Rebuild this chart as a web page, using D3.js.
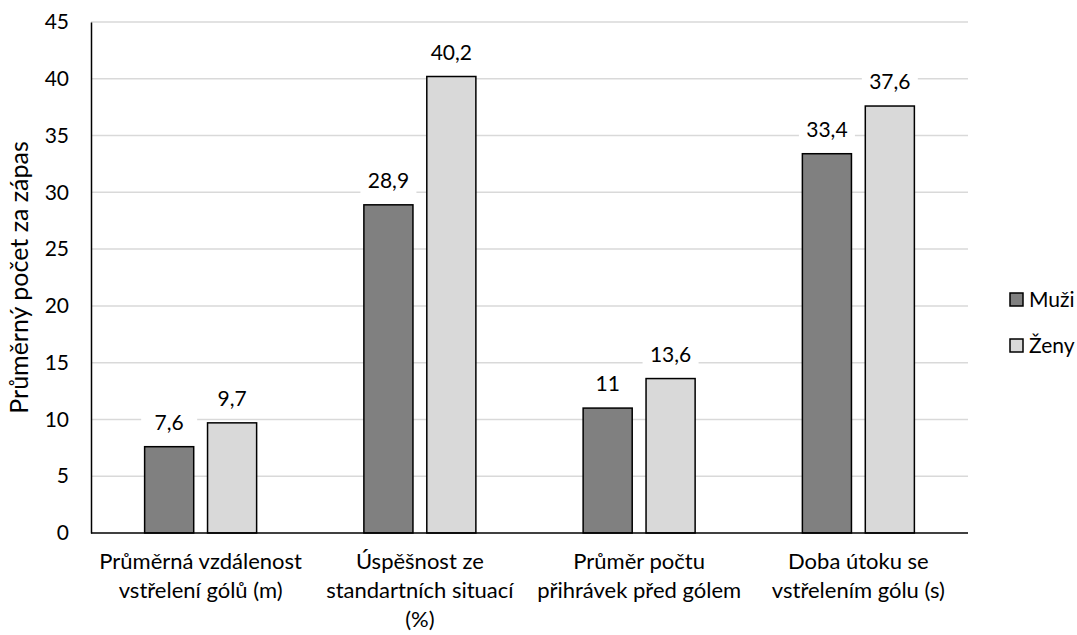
<!doctype html>
<html>
<head>
<meta charset="utf-8">
<script src="https://cdnjs.cloudflare.com/ajax/libs/d3/7.8.5/d3.min.js"></script>
<style>
  body { margin: 0; background: #fff; }
  text { font-family: Lato, "Open Sans", sans-serif; fill: #000; }
</style>
</head>
<body>
<div id="chart"></div>
<script>
var w = 1077, h = 635;
var margin = {left: 91, right: 109, top: 22, bottom: 102};

var categories = [
  ["Průměrná vzdálenost", "vstřelení gólů (m)"],
  ["Úspěšnost ze", "standartních situací", "(%)"],
  ["Průměr počtu", "přihrávek před gólem"],
  ["Doba útoku se", "vstřelením gólu (s)"]
];
var series = ["Muži", "Ženy"];
var colors = ["#808080", "#d9d9d9"];
var muzi = [7.6, 28.9, 11, 33.4];
var zeny = [9.7, 40.2, 13.6, 37.6];
var yTicks = [0, 5, 10, 15, 20, 25, 30, 35, 40, 45];

var values = [muzi, zeny];

var svg = d3.select("#chart").append("svg")
  .attr("width", w).attr("height", h);

var x0 = d3.scaleBand()
  .domain(d3.range(categories.length))
  .range([margin.left, w - margin.right]);

var x1 = d3.scaleBand()
  .domain([0, 1])
  .range([0, 112])
  .paddingInner(0.22);

var y = d3.scaleLinear()
  .domain([0, 45])
  .range([h - margin.bottom, margin.top]);

// gridlines
svg.append("g")
  .selectAll("line")
  .data(yTicks.slice(1))
  .enter().append("line")
  .attr("x1", margin.left).attr("x2", w - margin.right)
  .attr("y1", function (d) { return y(d); })
  .attr("y2", function (d) { return y(d); })
  .attr("stroke", "#d9d9d9").attr("stroke-width", 1.5);

// y axis
var yAxis = svg.append("g")
  .attr("transform", "translate(" + margin.left + ",0)")
  .call(d3.axisLeft(y).tickValues(yTicks).tickSize(0).tickPadding(22));
yAxis.select(".domain").attr("stroke", "#000").attr("stroke-width", 1.5);
yAxis.selectAll("text").style("font-size", "21px").style("font-family", "Lato, 'Open Sans', sans-serif");

// bars
series.forEach(function (s, si) {
  var g = svg.append("g");
  g.selectAll("rect")
    .data(values[si])
    .enter().append("rect")
    .attr("x", function (d, i) { return x0(i) + x0.bandwidth() / 2 - 56 + x1(si); })
    .attr("y", function (d) { return y(d); })
    .attr("width", x1.bandwidth())
    .attr("height", function (d) { return y(0) - y(d); })
    .attr("fill", colors[si])
    .attr("stroke", "#000").attr("stroke-width", 1.5);

  // data labels with white background
  var lab = g.selectAll("g.lab")
    .data(values[si])
    .enter().append("g")
    .attr("class", "lab")
    .attr("transform", function (d, i) {
      return "translate(" + (x0(i) + x0.bandwidth() / 2 - 56 + x1(si) + x1.bandwidth() / 2) + "," + (y(d) - 17) + ")";
    });
  lab.append("rect")
    .attr("x", -28).attr("y", -22).attr("width", 56).attr("height", 28)
    .attr("fill", "#fff");
  lab.append("text")
    .attr("text-anchor", "middle")
    .style("font-size", "21px")
    .text(function (d) { return String(d).replace(".", ","); });
});

// x axis line
svg.append("line")
  .attr("x1", margin.left).attr("x2", w - margin.right)
  .attr("y1", y(0)).attr("y2", y(0))
  .attr("stroke", "#000").attr("stroke-width", 1.5);

// category labels
var cat = svg.append("g").selectAll("text")
  .data(categories)
  .enter().append("text")
  .attr("text-anchor", "middle")
  .style("font-size", "22px")
  .attr("transform", function (d, i) { return "translate(" + (x0(i) + x0.bandwidth() / 2) + "," + (y(0) + 36) + ")"; });
cat.selectAll("tspan")
  .data(function (d) { return d; })
  .enter().append("tspan")
  .attr("x", 0)
  .attr("dy", function (d, i) { return i === 0 ? 0 : 29; })
  .text(function (d) { return d; });

// y title
svg.append("text")
  .attr("text-anchor", "middle")
  .attr("transform", "translate(28," + ((y(0) + y(45)) / 2) + ")rotate(-90)")
  .style("font-size", "25px")
  .text("Průměrný počet za zápas");

// legend
var leg = svg.append("g").selectAll("g")
  .data(series)
  .enter().append("g")
  .attr("transform", function (d, i) { return "translate(1010," + (293 + i * 46) + ")"; });
leg.append("rect")
  .attr("width", 13).attr("height", 13)
  .attr("fill", function (d, i) { return colors[i]; })
  .attr("stroke", "#000").attr("stroke-width", 1.5);
leg.append("text")
  .attr("x", 19).attr("y", 14)
  .style("font-size", "21px")
  .text(function (d) { return d; });
</script>
</body>
</html>
